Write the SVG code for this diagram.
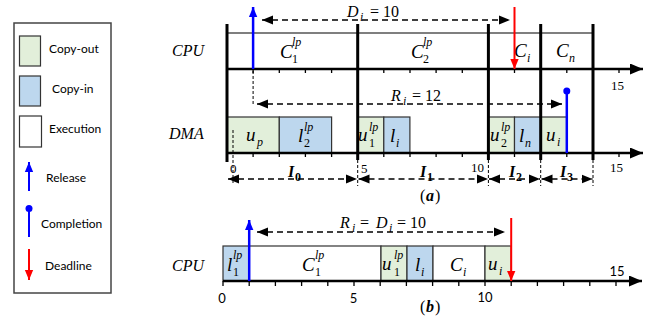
<svg xmlns="http://www.w3.org/2000/svg" width="662" height="320" viewBox="0 0 662 320">
<defs>
<style>
.m{font-family:"Liberation Serif",serif;font-style:italic;font-size:19px;fill:#000}
.mm{font-family:"Liberation Serif",serif;font-style:italic;font-size:16px;fill:#000}
.up{font-style:normal}
.su{font-family:"Liberation Serif",serif;font-style:italic;font-size:12px;fill:#000}
.sd{font-family:"Liberation Serif",serif;font-size:12px;fill:#000}
.iv{font-family:"Liberation Serif",serif;font-style:italic;font-weight:bold;font-size:16px;fill:#000}
.ivs{font-family:"Liberation Serif",serif;font-weight:bold;font-size:12px;fill:#000}
.num{font-family:"Liberation Serif",serif;font-size:13px;fill:#000}
.numb{font-family:"Lato",sans-serif;font-size:13px;fill:#000}
.leg{font-family:"Lato",sans-serif;font-size:12px;fill:#000}
.thick{stroke:#000;stroke-width:3;fill:none}
.axis{stroke:#000;stroke-width:2.5;fill:none}
.tick{stroke:#000;stroke-width:1.3;fill:none}
.dash{stroke:#000;stroke-width:1.6;stroke-dasharray:6 4;fill:none}
.tdash{stroke:#000;stroke-width:1;stroke-dasharray:3 2;fill:none}
.co{fill:#e2efda;stroke:#333;stroke-width:1.2}
.ci{fill:#bdd7ee;stroke:#333;stroke-width:1.2}
.ex{fill:#fff;stroke:#333;stroke-width:1.2}
.line{stroke:#000;stroke-width:1.2;fill:none}
</style>
<marker id="ah" markerUnits="userSpaceOnUse" markerWidth="11" markerHeight="10" refX="11" refY="5" orient="auto-start-reverse" viewBox="0 0 11 10"><path d="M0,0.5 L11,5 L0,9.5 z" fill="#000"/></marker>
<marker id="ax" markerUnits="userSpaceOnUse" markerWidth="13" markerHeight="11" refX="13" refY="5.5" orient="auto" viewBox="0 0 13 11"><path d="M0,0 L13,5.5 L0,11 z" fill="#000"/></marker>
<marker id="bl" markerUnits="userSpaceOnUse" markerWidth="10" markerHeight="12" refX="12" refY="5" orient="auto" viewBox="0 0 12 10"><path d="M0,0 L12,5 L0,10 z" fill="#0000ff"/></marker>
<marker id="rd" markerUnits="userSpaceOnUse" markerWidth="10" markerHeight="12" refX="12" refY="5" orient="auto" viewBox="0 0 12 10"><path d="M0,0 L12,5 L0,10 z" fill="#ff0000"/></marker>
</defs>
<rect width="662" height="320" fill="#fff"/>

<g id="legend">
<rect x="14" y="23" width="97" height="270" fill="#fff" stroke="#444" stroke-width="1.5"/>
<rect x="19.5" y="36" width="21" height="30" class="co"/>
<text x="49" y="53" class="leg">Copy-out</text>
<rect x="19.5" y="76" width="21" height="30" class="ci"/>
<text x="52" y="93" class="leg">Copy-in</text>
<rect x="19.5" y="116" width="22" height="31" class="ex"/>
<text x="49" y="133" class="leg">Execution</text>
<line x1="29" y1="191" x2="29" y2="162" stroke="#0000ff" stroke-width="2" marker-end="url(#bl)"/>
<text x="46" y="182" class="leg">Release</text>
<line x1="29" y1="208" x2="29" y2="237" stroke="#0000ff" stroke-width="2"/>
<circle cx="29" cy="208.5" r="3.5" fill="#0000ff"/>
<text x="41" y="228" class="leg">Completion</text>
<line x1="29" y1="249" x2="29" y2="280" stroke="#ff0000" stroke-width="2" marker-end="url(#rd)"/>
<text x="45" y="270" class="leg">Deadline</text>
</g>

<g id="row-labels">
<text x="172" y="56" class="mm" font-size="17">CPU</text>
<text x="169" y="139" class="mm" font-size="17">DMA</text>
<text x="172" y="271" class="mm" font-size="17">CPU</text>
</g>

<g id="a-cpu">
<line x1="227" y1="33" x2="593" y2="33" class="line"/>
<text x="280" y="58" class="m">C</text><text x="292" y="46" class="su">lp</text><text x="292" y="63" class="sd">1</text>
<text x="411" y="58" class="m">C</text><text x="423" y="46" class="su">lp</text><text x="423" y="63" class="sd">2</text>
<text x="514" y="57" class="m">C</text><text x="527" y="62" class="su">i</text>
<text x="556" y="57" class="m">C</text><text x="569" y="62" class="su">n</text>
</g>

<g id="a-dma">
<rect x="227" y="117" width="52.3" height="36" class="co"/>
<rect x="279.3" y="117" width="52.3" height="36" class="ci"/>
<rect x="357.7" y="117" width="26.1" height="36" class="co"/>
<rect x="383.8" y="117" width="26.1" height="36" class="ci"/>
<rect x="488.4" y="117" width="26.1" height="36" class="co"/>
<rect x="514.5" y="117" width="26.2" height="36" class="ci"/>
<rect x="540.7" y="117" width="26.1" height="36" class="co"/>
<text x="246" y="141" class="m">u</text><text x="257" y="146" class="su">p</text>
<text x="298" y="142" class="m">l</text><text x="304" y="131" class="su">lp</text><text x="304" y="147" class="sd">2</text>
<text x="358" y="141" class="m">u</text><text x="369" y="131" class="su">lp</text><text x="369" y="147" class="sd">1</text>
<text x="390" y="142" class="m">l</text><text x="396" y="147" class="su">i</text>
<text x="490" y="141" class="m">u</text><text x="501" y="131" class="su">lp</text><text x="501" y="147" class="sd">2</text>
<text x="519" y="142" class="m">l</text><text x="525" y="147" class="su">n</text>
<text x="546" y="141" class="m">u</text><text x="557" y="146" class="su">i</text>
</g>

<g id="a-axes">
<line x1="227" y1="69" x2="643" y2="69" class="axis" marker-end="url(#ax)"/>
<line x1="227" y1="153" x2="643" y2="153" class="axis" marker-end="url(#ax)"/>
<path class="tick" d="M253.1,69v4 M279.3,69v4 M305.4,69v4 M331.6,69v4 M383.8,69v4 M410,69v4 M436.1,69v4 M462.3,69v4 M514.5,69v4 M566.8,69v4 M619,69v4
M253.1,153v4 M279.3,153v4 M305.4,153v4 M331.6,153v4 M383.8,153v4 M410,153v4 M436.1,153v4 M462.3,153v4 M514.5,153v4 M566.8,153v4 M619,153v4"/>
<path class="thick" d="M227,24V162 M357.7,24V160 M488.4,24V160 M540.7,24V160 M593,24V160"/>
<path class="tdash" d="M357.7,160V186 M488.4,160V186 M540.7,160V186 M593,160V186 M233,130V183 M253.1,71V106"/>
<text x="611" y="90" class="num">15</text>
<text x="230" y="173" class="num">0</text>
<text x="361" y="173" class="num">5</text>
<text x="471" y="172" class="num">10</text>
<text x="610" y="172" class="num">15</text>
</g>

<g id="a-events">
<line x1="253.1" y1="69" x2="253.1" y2="7" stroke="#0000ff" stroke-width="2.5" marker-end="url(#bl)"/>
<line x1="514.5" y1="7" x2="514.5" y2="69" stroke="#ff0000" stroke-width="2" marker-end="url(#rd)"/>
<line x1="566.8" y1="91" x2="566.8" y2="153" stroke="#0000ff" stroke-width="2.5"/>
<circle cx="566.8" cy="91" r="3.5" fill="#0000ff"/>
</g>

<g id="a-intervals">
<line x1="262" y1="20" x2="510" y2="20" class="dash" marker-start="url(#ah)" marker-end="url(#ah)"/>
<text x="347" y="17" class="mm">D</text><text x="360" y="21" class="su">i</text><text x="370" y="17" class="mm up">= 10</text>
<line x1="257" y1="104" x2="562" y2="104" class="dash" marker-start="url(#ah)" marker-end="url(#ah)"/>
<text x="391" y="101" class="mm">R</text><text x="403" y="105" class="su">i</text><text x="412" y="101" class="mm up">= 12</text>
<line x1="228" y1="179" x2="357" y2="179" class="dash" marker-start="url(#ah)" marker-end="url(#ah)"/>
<line x1="358.5" y1="179" x2="488" y2="179" class="dash" marker-start="url(#ah)" marker-end="url(#ah)"/>
<line x1="489" y1="179" x2="540" y2="179" class="dash" marker-start="url(#ah)" marker-end="url(#ah)"/>
<line x1="541.5" y1="179" x2="592.5" y2="179" class="dash" marker-start="url(#ah)" marker-end="url(#ah)"/>
<text x="288" y="177" class="iv">I</text><text x="295" y="181" class="ivs">0</text>
<text x="420" y="177" class="iv">I</text><text x="427" y="181" class="ivs">1</text>
<text x="509" y="177" class="iv">I</text><text x="516" y="181" class="ivs">2</text>
<text x="560" y="177" class="iv">I</text><text x="567" y="181" class="ivs">3</text>
<text x="420" y="201" class="mm up">(</text><text x="426" y="201" class="iv">a</text><text x="435" y="201" class="mm up">)</text>
</g>

<g id="b-cpu">
<rect x="223" y="246" width="26.2" height="35" class="ci"/>
<rect x="249.2" y="246" width="131.8" height="35" class="ex"/>
<rect x="381" y="246" width="26" height="35" class="co"/>
<rect x="407" y="246" width="26" height="35" class="ci"/>
<rect x="433" y="246" width="52" height="35" class="ex"/>
<rect x="485" y="246" width="26.2" height="35" class="co"/>
<text x="227" y="271" class="m">l</text><text x="233" y="259" class="su">lp</text><text x="233" y="276" class="sd">1</text>
<text x="302" y="271" class="m">C</text><text x="315" y="259" class="su">lp</text><text x="315" y="276" class="sd">1</text>
<text x="382" y="270" class="m">u</text><text x="394" y="259" class="su">lp</text><text x="394" y="276" class="sd">1</text>
<text x="415" y="271" class="m">l</text><text x="421" y="276" class="su">i</text>
<text x="450" y="271" class="m">C</text><text x="463" y="276" class="su">i</text>
<text x="488" y="270" class="m">u</text><text x="499" y="275" class="su">i</text>
</g>

<g id="b-axis">
<line x1="223" y1="281" x2="642" y2="281" class="axis" marker-end="url(#ax)"/>
<path class="tick" d="M223,281v5 M249.2,281v5 M275.4,281v5 M301.6,281v5 M327.8,281v5 M354,281v5 M380.2,281v5 M406.4,281v5 M432.6,281v5 M458.8,281v5 M485,281v5 M511.2,281v5 M537.4,281v5 M563.6,281v5 M589.8,281v5 M616,281v5"/>
<text x="222" y="303" class="numb" text-anchor="middle">0</text>
<text x="353.5" y="303" class="numb" text-anchor="middle">5</text>
<text x="485" y="302" class="numb" text-anchor="middle">10</text>
<text x="617" y="276" class="numb" text-anchor="middle">15</text>
<line x1="249.2" y1="281" x2="249.2" y2="220" stroke="#0000ff" stroke-width="2.5" marker-end="url(#bl)"/>
<line x1="511.2" y1="218" x2="511.2" y2="281" stroke="#ff0000" stroke-width="2" marker-end="url(#rd)"/>
<line x1="257" y1="232" x2="505" y2="232" class="dash" marker-start="url(#ah)" marker-end="url(#ah)"/>
<text x="340" y="228" class="mm">R</text><text x="352" y="232" class="su">i</text><text x="360" y="228" class="mm up">=</text>
<text x="376" y="228" class="mm">D</text><text x="389" y="232" class="su">i</text><text x="397" y="228" class="mm up">= 10</text>
<text x="420" y="312" class="mm up">(</text><text x="426" y="312" class="iv">b</text><text x="435" y="312" class="mm up">)</text>
</g>
</svg>
